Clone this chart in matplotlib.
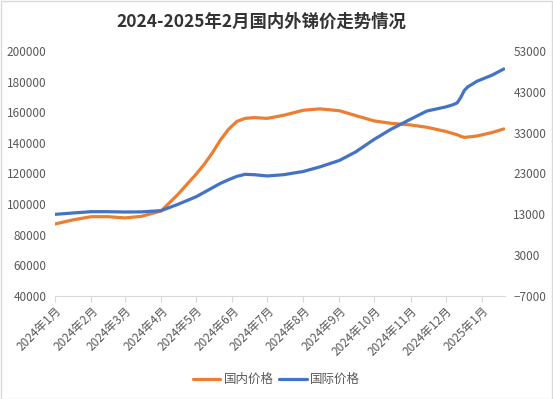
import datetime as dt
import matplotlib
matplotlib.use("Agg")
import matplotlib.pyplot as plt
from matplotlib.patches import Rectangle

plt.rcParams['font.family'] = ['Noto Sans CJK SC', 'DejaVu Sans']

dates = ["2024-01-01", "2024-01-15", "2024-02-01", "2024-02-15", "2024-03-01",
         "2024-03-15", "2024-04-01", "2024-04-15", "2024-05-01", "2024-05-08",
         "2024-05-15", "2024-05-22", "2024-05-29", "2024-06-05", "2024-06-12",
         "2024-06-20", "2024-07-01", "2024-07-15", "2024-08-01",
         "2024-08-15", "2024-09-01", "2024-09-15", "2024-10-01", "2024-10-15",
         "2024-11-01", "2024-11-15", "2024-12-01", "2024-12-07", "2024-12-11",
         "2024-12-14", "2024-12-17", "2024-12-20", "2024-12-28", "2025-01-10",
         "2025-01-20"]
domestic = [87000, 89500, 91800, 91800, 91000,
            92000, 95500, 106000, 119500, 126000,
            133500, 142000, 149000, 154000, 156000,
            156500, 156000, 158000, 161300,
            162200, 161000, 157800, 154300, 152800,
            151700, 150200, 147500, 146200, 145300,
            144300, 143600, 143800, 144500, 146800,
            149100]
intl = [13000, 13300, 13650, 13650, 13570,
        13600, 13900, 15400, 17300, 18400,
        19500, 20600, 21500, 22300, 22800,
        22700, 22400, 22700, 23500,
        24600, 26200, 28300, 31400, 33800,
        36300, 38300, 39300, 39800, 40300,
        41600, 43300, 44200, 45600, 47100,
        48600]
month_labels = ["2024年1月", "2024年2月", "2024年3月", "2024年4月", "2024年5月",
                "2024年6月", "2024年7月", "2024年8月", "2024年9月", "2024年10月",
                "2024年11月", "2024年12月", "2025年1月"]

x = [dt.datetime.strptime(d, "%Y-%m-%d") for d in dates]
month_ticks = [dt.datetime(2024, m, 1) for m in range(1, 13)] + [dt.datetime(2025, 1, 1)]

fig = plt.figure(figsize=(5.53, 3.99), dpi=100)
fig.patches.append(Rectangle((0.001, 0.001), 0.998, 0.997, transform=fig.transFigure,
                             fill=False, edgecolor='#D9D9D9', linewidth=1))
ax = fig.add_axes([55 / 553, 1 - 296 / 399, 450 / 553, 245 / 399])
ax2 = ax.twinx()

l1, = ax.plot(x, domestic, color='#ED7D31', linewidth=2.3,
              solid_capstyle='round', solid_joinstyle='round')
l2, = ax2.plot(x, intl, color='#4472C4', linewidth=2.3,
               solid_capstyle='round', solid_joinstyle='round')

ax.set_xlim(dt.datetime(2024, 1, 1), dt.datetime(2025, 1, 21))
ax.set_ylim(40000, 200000)
ax.set_yticks(range(40000, 200001, 20000))
ax2.set_ylim(-7000, 53000)
ax2.set_yticks(range(-7000, 53001, 10000))

ax.set_xticks(month_ticks)
ax.set_xticklabels(month_labels, rotation=45, ha='right', rotation_mode='anchor')

for a in (ax, ax2):
    for s in a.spines.values():
        s.set_visible(False)
    a.tick_params(axis='y', length=0, labelsize=8.5, labelcolor='#595959')
ax.spines['bottom'].set_visible(True)
ax.spines['bottom'].set_color('#D9D9D9')
ax.tick_params(axis='x', length=4, color='#D9D9D9', labelsize=8.5, labelcolor='#595959', pad=2)
ax.tick_params(axis='y', pad=6)
ax2.tick_params(axis='y', pad=6)

fig.text(0.472, 0.945, "2024-2025年2月国内外锑价走势情况", ha='center', va='center',
         fontsize=12.5, fontweight='bold', color='#333333')

fig.legend([l1, l2], ["国内价格", "国际价格"], loc='center', bbox_to_anchor=(0.5, 0.048),
           ncol=2, frameon=False, fontsize=9, handlelength=2.2, handletextpad=0.3,
           columnspacing=0.4, labelcolor='#595959')

fig.savefig("out.png", dpi=100)
